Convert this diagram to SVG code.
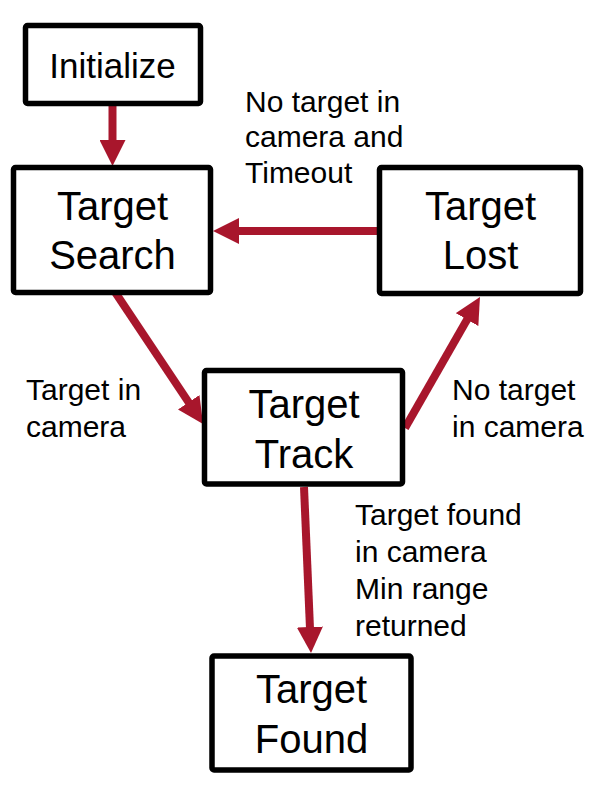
<svg xmlns="http://www.w3.org/2000/svg" width="595" height="787" viewBox="0 0 595 787">
<style>
.box{fill:#fff;stroke:#000;stroke-width:5.5}
.lbl{font-family:"Liberation Sans",Arial,sans-serif;font-size:40px;fill:#000;text-anchor:middle}
.elbl{font-family:"Liberation Sans",Arial,sans-serif;font-size:30px;fill:#000}
.conn{stroke:#A8162C;stroke-width:8;fill:none}
</style>
<defs>
<marker id="ah" markerUnits="userSpaceOnUse" markerWidth="26" markerHeight="26" refX="16" refY="13" orient="auto">
<path d="M0,0 L26,13 L0,26 z" fill="#A8162C"/>
</marker>
</defs>
<rect width="595" height="787" fill="#fff"/>
<g id="connectors">
<line class="conn" x1="112.5" y1="106" x2="112.5" y2="156" marker-end="url(#ah)"/>
<line class="conn" x1="377" y1="231" x2="223" y2="231" marker-end="url(#ah)"/>
<line class="conn" x1="115" y1="292" x2="197.5" y2="415.6" marker-end="url(#ah)"/>
<line class="conn" x1="405" y1="428" x2="475" y2="305.7" marker-end="url(#ah)"/>
<line class="conn" x1="304" y1="487" x2="310.6" y2="643" marker-end="url(#ah)"/>
</g>
<g id="initialize">
<rect class="box" x="25.5" y="25.5" width="175" height="78" rx="2"/>
<text class="lbl" x="112.5" y="78" style="font-size:35px">Initialize</text>
</g>
<g id="target-search">
<rect class="box" x="13.5" y="167.5" width="197" height="125" rx="2"/>
<text class="lbl" x="112.5" y="220">Target</text>
<text class="lbl" x="112.5" y="269">Search</text>
</g>
<g id="target-lost">
<rect class="box" x="379.5" y="167.5" width="201" height="126" rx="2"/>
<text class="lbl" x="480.5" y="220">Target</text>
<text class="lbl" x="480.5" y="269">Lost</text>
</g>
<g id="target-track">
<rect class="box" x="204.5" y="370.5" width="198" height="113.5" rx="2"/>
<text class="lbl" x="304" y="418">Target</text>
<text class="lbl" x="304" y="467.5">Track</text>
</g>
<g id="target-found">
<rect class="box" x="212" y="656" width="199" height="114" rx="2"/>
<text class="lbl" x="311.5" y="703">Target</text>
<text class="lbl" x="311.5" y="752.5">Found</text>
</g>
<g id="edge-labels">
<text class="elbl" x="245" y="111.5">No target in</text>
<text class="elbl" x="245" y="147">camera and</text>
<text class="elbl" x="245" y="183">Timeout</text>
<text class="elbl" x="26" y="400">Target in</text>
<text class="elbl" x="26" y="437">camera</text>
<text class="elbl" x="452" y="400">No target</text>
<text class="elbl" x="452" y="437">in camera</text>
<text class="elbl" x="355" y="525">Target found</text>
<text class="elbl" x="355" y="562">in camera</text>
<text class="elbl" x="355" y="599">Min range</text>
<text class="elbl" x="355" y="636">returned</text>
</g>
</svg>
